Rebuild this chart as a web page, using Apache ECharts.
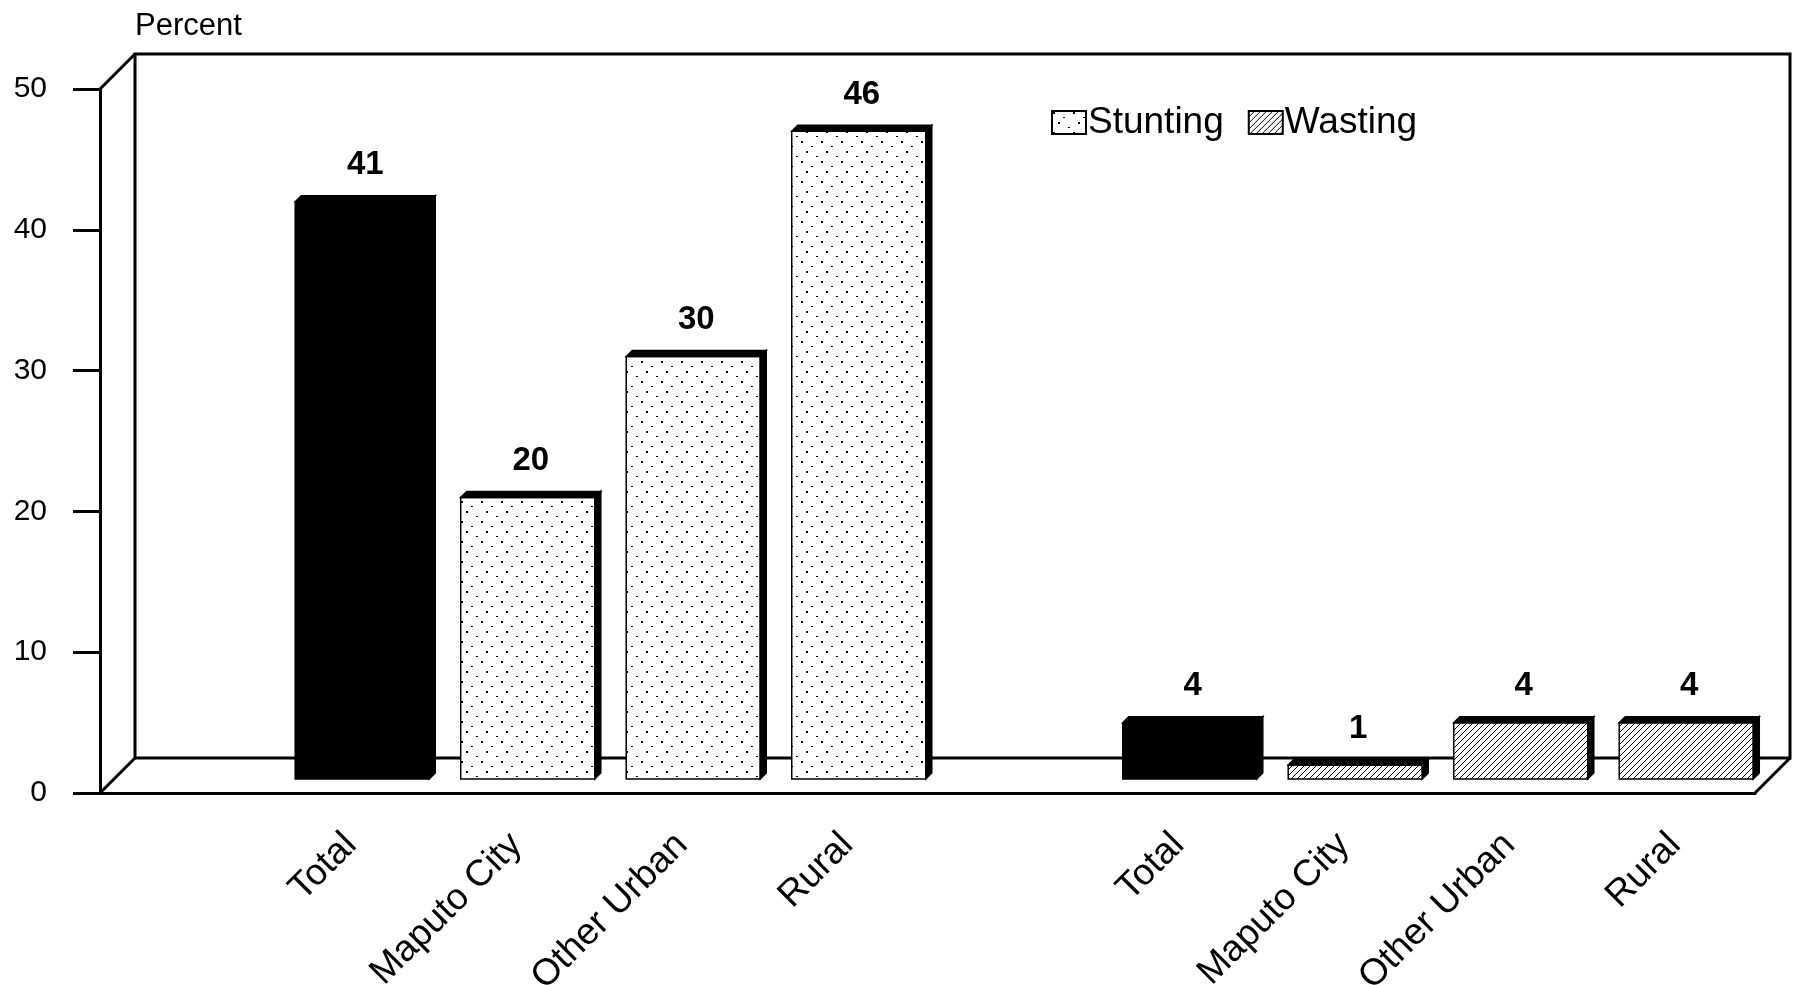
<!DOCTYPE html>
<html>
<head>
<meta charset="utf-8">
<script src="https://cdn.jsdelivr.net/npm/echarts@6/dist/echarts.min.js"></script>
<style>
  html, body { margin: 0; padding: 0; background: #fff; }
  #chart { width: 1798px; height: 985px; }
</style>
</head>
<body>
<div id="chart"></div>
<script>
// ---- data ----
const regions = ['Total', 'Maputo City', 'Other Urban', 'Rural'];
const stunting = [41, 20, 30, 46];
const wasting = [4, 1, 4, 4];
const seriesNames = ['Stunting', 'Wasting'];
const yMin = 0, yMax = 50, yStep = 10;

// ---- layout ----
const FONT = "'Liberation Sans', Arial, Helvetica, sans-serif";
const FRONT = { left: 100, top: 89, width: 1655, height: 704 };   // front plane of the box
const DEPTH = [35, -35];                                        // offset of the back wall
const BAR_PLANE = 0.4;                                          // bars stand 40% into the box
const BAR_RATIO = 0.81;                                         // face width / slot width
const BAR_DEPTH = 6;                                            // 3-D thickness of each bar

function planeAt(f) {
  return {
    left: FRONT.left + DEPTH[0] * f,
    top: FRONT.top + DEPTH[1] * f,
    width: FRONT.width,
    height: FRONT.height,
    outerBoundsMode: 'none',
    containLabel: false
  };
}
const BARS = planeAt(BAR_PLANE);
const BACK = planeAt(1);

// category slots: empty slot, stunting group, empty slot, wasting group
const slots = [''].concat(regions, [''], regions);
const stuntingData = stunting.map((v, i) => [1 + i, v, regions[i] === 'Total' ? 1 : 0]);
const wastingData = wasting.map((v, i) => [2 + regions.length + i, v, regions[i] === 'Total' ? 1 : 0]);

// ---- fill patterns ----
function dotPattern() {
  const c = document.createElement('canvas');
  c.width = 20; c.height = 20;
  const g = c.getContext('2d');
  g.fillStyle = '#fff'; g.fillRect(0, 0, 20, 20);
  g.fillStyle = '#000';
  g.fillRect(1, 1, 2, 2);
  g.fillRect(11, 6, 2, 1);
  g.fillRect(6, 11, 2, 2);
  g.fillRect(16, 16, 2, 1);
  return { image: c, repeat: 'repeat' };
}
function hatchPattern() {
  const s = 6;
  const c = document.createElement('canvas');
  c.width = s; c.height = s;
  const g = c.getContext('2d');
  g.fillStyle = '#fff'; g.fillRect(0, 0, s, s);
  g.strokeStyle = '#000'; g.lineWidth = 1;
  g.beginPath();
  g.moveTo(-1, s + 1); g.lineTo(s + 1, -1);
  g.moveTo(-1, 1); g.lineTo(1, -1);
  g.moveTo(s - 1, s + 1); g.lineTo(s + 1, s - 1);
  g.stroke();
  return { image: c, repeat: 'repeat' };
}
const DOTS = dotPattern();
const HATCH = hatchPattern();

// ---- 3-D bar drawing ----
function barRenderer(pattern) {
  return function (params, api) {
    const xi = api.value(0), v = api.value(1), solid = api.value(2);
    const top = api.coord([xi, v]);
    const base = api.coord([xi, 0]);
    const w = api.size([1, 0])[0] * BAR_RATIO;
    const x0 = top[0] - w / 2, x1 = x0 + w;
    const y0 = top[1], y1 = base[1];
    const d = BAR_DEPTH;
    return {
      type: 'group',
      children: [
        {
          type: 'rect',
          shape: { x: x0, y: y0, width: w, height: y1 - y0 },
          style: { fill: solid ? '#000' : pattern, stroke: '#000', lineWidth: 1.5 }
        },
        {
          type: 'polygon',
          shape: { points: [[x0, y0], [x0 + d, y0 - d], [x1 + d, y0 - d], [x1, y0]] },
          style: { fill: '#000', stroke: '#000', lineWidth: 1.5 }
        },
        {
          type: 'polygon',
          shape: { points: [[x1, y0], [x1 + d, y0 - d], [x1 + d, y1 - d], [x1, y1]] },
          style: { fill: '#000', stroke: '#000', lineWidth: 1.5 }
        },
        {
          type: 'text',
          style: {
            text: String(v),
            x: (x0 + x1 + d) / 2,
            y: y0 - d - 14,
            align: 'center',
            verticalAlign: 'bottom',
            fontFamily: FONT,
            fontSize: 33,
            fontWeight: 'bold',
            fill: '#000'
          }
        }
      ]
    };
  };
}

// ---- box edges joining front and back planes ----
function edge(x, y) {
  return {
    type: 'line',
    shape: { x1: x, y1: y, x2: x + DEPTH[0], y2: y + DEPTH[1] },
    style: { stroke: '#000', lineWidth: 3 },
    z: 5
  };
}

const chart = echarts.init(document.getElementById('chart'), null, { renderer: 'canvas' });
chart.setOption({
  animation: false,
  backgroundColor: '#fff',
  textStyle: { fontFamily: FONT, color: '#000' },
  title: {
    text: 'Percent',
    left: 130,
    top: 6,
    textStyle: { fontFamily: FONT, fontSize: 31, fontWeight: 'normal', color: '#000' }
  },
  legend: {
    left: 1046,
    top: 99,
    itemWidth: 34,
    itemHeight: 23,
    itemGap: 24,
    selectedMode: false,
    textStyle: { fontFamily: FONT, fontSize: 37, color: '#000', padding: [0, 0, 0, -3] },
    data: [
      { name: seriesNames[0], icon: 'rect', itemStyle: { color: DOTS, borderColor: '#000', borderWidth: 2 } },
      { name: seriesNames[1], icon: 'rect', itemStyle: { color: HATCH, borderColor: '#000', borderWidth: 2 } }
    ]
  },
  grid: [
    Object.assign({ show: true, borderColor: '#000', borderWidth: 3, backgroundColor: 'transparent' }, BACK),
    Object.assign({ show: false }, planeAt(0)),
    Object.assign({ show: false }, BARS)
  ],
  xAxis: [
    { gridIndex: 0, type: 'category', data: slots, show: false },
    {
      gridIndex: 1, type: 'category', data: slots,
      axisLine: { show: true, lineStyle: { color: '#000', width: 3 } },
      axisTick: { show: false }, axisLabel: { show: false }, splitLine: { show: false }
    },
    {
      gridIndex: 2, type: 'category', data: slots,
      axisLine: { show: false }, axisTick: { show: false }, splitLine: { show: false },
      axisLabel: {
        interval: 0, rotate: 45, margin: 49, padding: [0, 16, 0, 0],
        fontFamily: FONT, fontSize: 37, color: '#000'
      }
    }
  ],
  yAxis: [
    { gridIndex: 0, type: 'value', min: yMin, max: yMax, interval: yStep, show: false },
    {
      gridIndex: 1, type: 'value', min: yMin, max: yMax, interval: yStep,
      axisLine: { show: true, lineStyle: { color: '#000', width: 3 } },
      axisTick: { show: true, inside: false, length: 27, lineStyle: { color: '#000', width: 3 } },
      axisLabel: { margin: 53, fontFamily: FONT, fontSize: 30, color: '#000' },
      splitLine: { show: false }
    },
    { gridIndex: 2, type: 'value', min: yMin, max: yMax, interval: yStep, show: false }
  ],
  graphic: [
    edge(FRONT.left, FRONT.top),
    edge(FRONT.left, FRONT.top + FRONT.height),
    edge(FRONT.left + FRONT.width, FRONT.top + FRONT.height)
  ],
  series: [
    {
      name: seriesNames[0], type: 'custom', xAxisIndex: 2, yAxisIndex: 2,
      renderItem: barRenderer(DOTS), encode: { x: 0, y: 1 },
      itemStyle: { color: DOTS, borderColor: '#000' },
      data: stuntingData, z: 3
    },
    {
      name: seriesNames[1], type: 'custom', xAxisIndex: 2, yAxisIndex: 2,
      renderItem: barRenderer(HATCH), encode: { x: 0, y: 1 },
      itemStyle: { color: HATCH, borderColor: '#000' },
      data: wastingData, z: 3
    }
  ]
});
</script>
</body>
</html>
